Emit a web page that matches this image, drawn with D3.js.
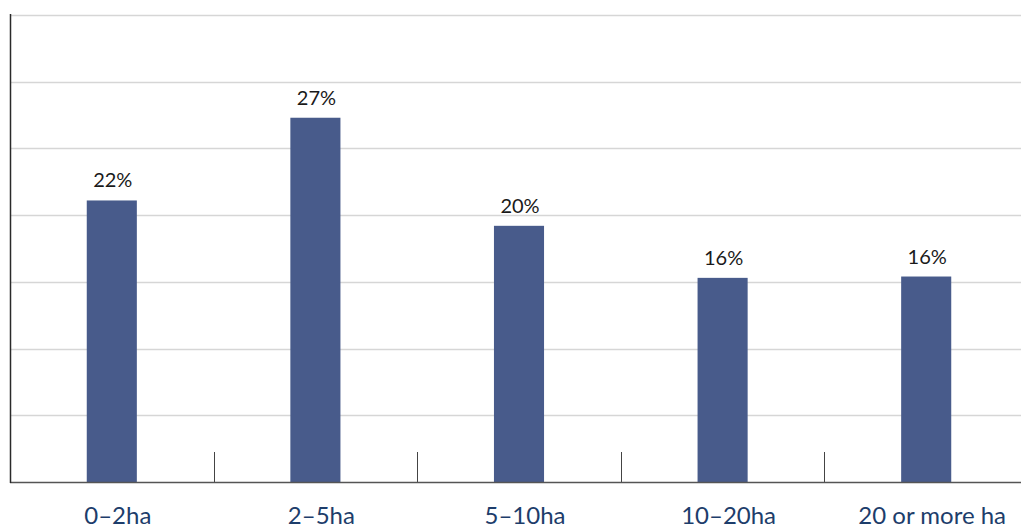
<!DOCTYPE html>
<html>
<head>
<meta charset="utf-8">
<script src="https://cdn.jsdelivr.net/npm/d3@7"></script>
<style>
  html, body { margin: 0; padding: 0; background: #fff; }
  svg { display: block; }
</style>
</head>
<body>
<svg id="chart" width="1021" height="528"></svg>
<script>
const categories = ["0–2ha", "2–5ha", "5–10ha", "10–20ha", "20 or more ha"];
const values = [21.1, 27.3, 19.2, 15.3, 15.4];
const valueLabels = ["22%", "27%", "20%", "16%", "16%"];
const gridTicks = [0, 5, 10, 15, 20, 25, 30, 35];

const svg = d3.select("#chart");
const mLeft = 10, mRight = 1028, mTop = 15, mBottom = 482;

const x = d3.scaleBand().domain(categories).range([mLeft, mRight])
  .paddingInner(0.754).paddingOuter(0.377);
const band = d3.scaleBand().domain(categories).range([mLeft, mRight]).padding(0);
const y = d3.scaleLinear().domain([0, 35]).range([mBottom, mTop]);

// gridlines
svg.append("g").selectAll("line").data(gridTicks.filter(d => d > 0)).join("line")
  .attr("x1", mLeft).attr("x2", 1021)
  .attr("y1", d => Math.round(y(d)) + 0.5).attr("y2", d => Math.round(y(d)) + 0.5)
  .attr("stroke", "#d6d6d6").attr("stroke-width", 1.5);

// bars
svg.append("g").selectAll("rect").data(values).join("rect")
  .attr("x", (d, i) => x(categories[i]))
  .attr("width", x.bandwidth())
  .attr("y", d => y(d))
  .attr("height", d => y(0) - y(d))
  .attr("fill", "#485b8b");

// value labels
svg.append("g").selectAll("text").data(values).join("text")
  .attr("x", (d, i) => x(categories[i]) + x.bandwidth() / 2 + 1)
  .attr("y", d => y(d) - 13)
  .attr("text-anchor", "middle")
  .attr("font-family", "Lato, 'Noto Sans', sans-serif")
  .attr("font-size", 20)
  .attr("fill", "#1a1a1a")
  .text((d, i) => valueLabels[i]);

// separator ticks between categories
svg.append("g").selectAll("line").data(categories.slice(1)).join("line")
  .attr("x1", d => Math.round(band(d)) + 0.5).attr("x2", d => Math.round(band(d)) + 0.5)
  .attr("y1", mBottom - 30).attr("y2", mBottom)
  .attr("stroke", "#444").attr("stroke-width", 1);

// baseline
svg.append("line").attr("x1", mLeft).attr("x2", 1021)
  .attr("y1", mBottom + 0.5).attr("y2", mBottom + 0.5)
  .attr("stroke", "#555").attr("stroke-width", 1.5);

// left axis line
svg.append("line").attr("x1", mLeft + 0.5).attr("x2", mLeft + 0.5)
  .attr("y1", mTop - 1).attr("y2", mBottom + 1)
  .attr("stroke", "#2a2a2a").attr("stroke-width", 1.5);

// category labels
svg.append("g").selectAll("text").data(categories).join("text")
  .attr("x", d => x(d) + x.bandwidth() / 2 + 6)
  .attr("y", 524)
  .attr("text-anchor", "middle")
  .attr("font-family", "Lato, 'Noto Sans', sans-serif")
  .attr("font-size", 24)
  .attr("fill", "#1d3d6b")
  .text(d => d);
</script>
</body>
</html>
